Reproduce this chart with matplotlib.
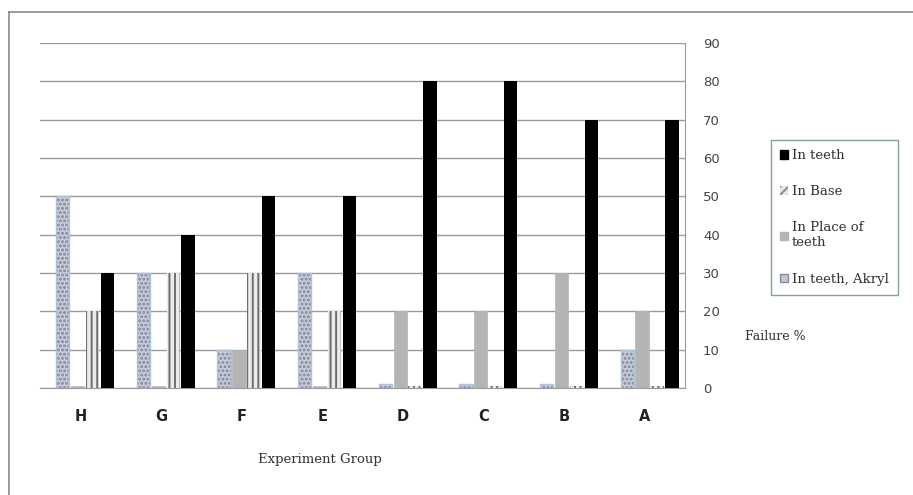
import numpy as np
import matplotlib.pyplot as plt
from matplotlib.patches import Patch
from matplotlib.lines import Line2D

groups = ["H", "G", "F", "E", "D", "C", "B", "A"]
akryl = [50, 30, 10, 30, 1, 1, 1, 10]          # In teeth, Akryl
place = [0.5, 0.5, 10, 0.5, 20, 20, 30, 20]    # In Place of teeth
base = [20, 30, 30, 20, 0.5, 0.5, 0.5, 0.5]    # In Base
teeth = [30, 40, 50, 50, 80, 80, 70, 70]       # In teeth
yticks = list(range(0, 100, 10))

plt.rcParams["hatch.linewidth"] = 1.4

fig = plt.figure(figsize=(9.13, 4.95), dpi=100)
ax = fig.add_axes([40 / 913, 107 / 495, 645 / 913, 345 / 495])

x = np.arange(len(groups))
w = 0.165
step = 0.185

ax.bar(x - 1.5 * step + 0.06, akryl, w, color="#c8cbd6", edgecolor="#7d849c",
       hatch="....", linewidth=0.0, zorder=3)
ax.bar(x - 1.5 * step + 0.06, akryl, w, fill=False, edgecolor="#a9c4dc",
       linewidth=1.0, zorder=4)
ax.bar(x - 0.5 * step + 0.06, place, w, color="#b4b4b4", edgecolor="#b4b4b4",
       linewidth=0.5, zorder=3)
ax.bar(x + 0.5 * step + 0.06, base, w, color="#ebebeb", edgecolor="#6e6e6e",
       hatch="|||", linewidth=0.0, zorder=3)
ax.bar(x + 1.5 * step + 0.06, teeth, w, color="black", zorder=3)

ax.set_xlim(-0.5, len(groups) - 0.5)
ax.set_ylim(0, 90)
ax.set_yticks(yticks)
ax.yaxis.tick_right()
ax.tick_params(axis="y", length=0, pad=13, labelsize=9.5, labelcolor="#444444")
ax.set_xticks(x)
ax.set_xticklabels(groups, fontweight="bold", fontsize=10.5, color="#222222")
ax.tick_params(axis="x", length=0, pad=15)

ax.grid(axis="y", color="#9a9a9a", linewidth=1.0, zorder=0)
for s in ["left", "top"]:
    ax.spines[s].set_visible(False)
ax.spines["right"].set_color("#9a9a9a")
ax.spines["bottom"].set_color("#9a9a9a")

fig.text(320 / 913, 1 - 460 / 495, "Experiment Group", ha="center", va="center",
         fontsize=9.5, family="DejaVu Serif", color="#333333")
fig.text(745 / 913, 1 - 337 / 495, "Failure %", ha="left", va="center",
         fontsize=9, family="DejaVu Serif", color="#333333")

# outer chart frame (top and left edges)
fig.add_artist(Line2D([9 / 913, 9 / 913], [0, 1 - 12 / 495],
                      transform=fig.transFigure, color="#7f8f8f", linewidth=1.2))
fig.add_artist(Line2D([9 / 913, 1], [1 - 12 / 495, 1 - 12 / 495],
                      transform=fig.transFigure, color="#7f8f8f", linewidth=1.2))

handles = [
    Patch(facecolor="black", edgecolor="black"),
    Patch(facecolor="#e6e6e6", edgecolor="#8a8a8a", hatch="////", linewidth=0),
    Patch(facecolor="#b4b4b4", edgecolor="#b4b4b4"),
    Patch(facecolor="#c3c6d2", edgecolor="#8a8aa0"),
]
labels = ["In teeth", "In Base", "In Place of\nteeth", "In teeth, Akryl"]
leg = fig.legend(handles, labels, loc="upper left",
                 bbox_to_anchor=(771 / 913, 1 - 140 / 495),
                 prop={"family": "DejaVu Serif", "size": 9.5},
                 handlelength=0.6, handleheight=0.6, handletextpad=0.3,
                 labelspacing=1.75, borderpad=0.7, fancybox=False,
                 frameon=True, borderaxespad=0)
leg.get_frame().set_edgecolor("#5f8a8b")
leg.get_frame().set_linewidth(1.0)
for t in leg.get_texts():
    t.set_color("#333333")

fig.savefig("out.png", dpi=100)
